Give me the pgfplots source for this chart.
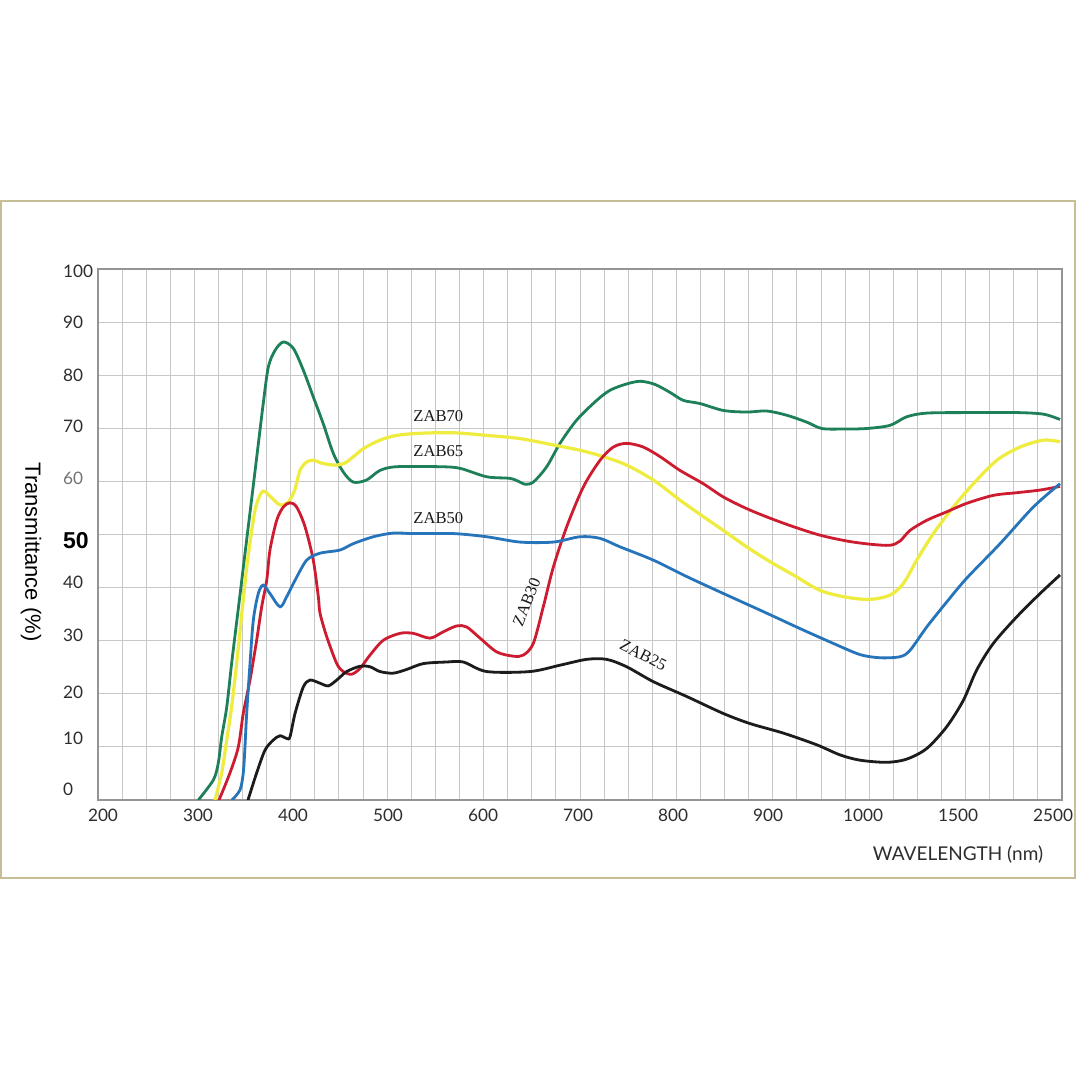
\documentclass[border=0pt]{standalone}
\usepackage{pgfplots}
\pgfplotsset{compat=1.18}
\usepackage{fontspec}
\setmainfont{Liberation Serif}
\newfontfamily\tickfont{Lato}
\newfontfamily\labfont{Liberation Sans}

\definecolor{frameTan}{RGB}{200,190,150}
\definecolor{zGreen}{RGB}{30,128,88}
\definecolor{zYellow}{RGB}{238,236,62}
\definecolor{zRed}{RGB}{205,28,48}
\definecolor{zBlue}{RGB}{38,116,186}
\definecolor{zBlack}{RGB}{28,28,28}
\definecolor{tickGray}{RGB}{45,45,45}

\begin{document}
\begin{tikzpicture}[x=0.5pt,y=0.5pt]
\fill[white] (0,0) rectangle (1080,1080);
\path[use as bounding box] (0,0) rectangle (1080,1080);
\draw[frameTan, line width=0.8pt] (1,202) rectangle (1075,879);

% x axis positions: 0..10 stand for 200,300,...,1000,1500,2500 nm
\begin{axis}[
  at={(49pt,140pt)}, anchor=south west,
  scale only axis, width=482pt, height=265.35pt,
  xmin=-0.021, xmax=10.126, ymin=0, ymax=100,
  axis line style={draw=black!42, line width=1pt},
  xtick={0,...,10},
  xticklabels={200,300,400,500,600,700,800,900,1000,1500,2500},
  minor xtick={-0.0211,0.23258,...,10.14},
  ytick={1.94,11.68,20.3,31.07,40.95,48.96,60.6,70.4,80.0,90.0,99.7},
  yticklabels={0,10,20,30,40,{\labfont\bfseries\fontsize{11.5pt}{12pt}\selectfont\color{black}50},{\color{black!55}60},70,80,90,100},
  minor ytick={0,10,...,100},
  grid=minor,
  minor grid style={black!22, line width=0.5pt},
  major tick length=0pt, minor tick length=0pt,
  tick label style={font=\tickfont\fontsize{8.6pt}{10pt}\selectfont, text=tickGray},
  yticklabel style={anchor=west, xshift=-21pt},
  xticklabel style={xshift=1.5pt, yshift=-1pt},
  clip=true,
]

\addplot[zGreen, line width=1.4pt, smooth] coordinates {
(1.035,0) (1.193,3.77) (1.245,6.97) (1.281,11.86) (1.334,17.5) (1.386,25.8)
(1.439,33.6) (1.474,38.7) (1.526,46.4) (1.597,56.8) (1.666,67.0) (1.719,74.8)
(1.772,81.6) (1.842,84.7) (1.929,86.3) (2.035,85.1) (2.14,81.0) (2.245,75.95)
(2.35,70.9) (2.456,65.3) (2.561,61.8) (2.666,59.9) (2.807,60.3) (2.947,62.1)
(3.123,62.8) (3.579,62.8) (3.789,62.5) (4.071,60.9) (4.316,60.6) (4.421,59.9)
(4.474,59.5) (4.561,59.9) (4.702,62.8) (4.842,67.2) (5.018,71.6) (5.228,75.3)
(5.368,77.2) (5.526,78.3) (5.684,78.9) (5.842,78.3) (6.0,76.8) (6.14,75.3)
(6.316,74.7) (6.561,73.4) (6.807,73.1) (7.018,73.3) (7.228,72.5) (7.439,71.2)
(7.597,70.0) (7.824,69.9) (8.07,70.0) (8.316,70.6) (8.49,72.2) (8.70,72.9)
(9.123,73.0) (9.649,73.0) (9.93,72.7) (10.105,71.7)
};

\addplot[zYellow, line width=1.6pt, smooth] coordinates {
(1.21,0) (1.281,5.1) (1.334,11.3) (1.386,17.6) (1.439,25.8) (1.492,35.0)
(1.526,40.8) (1.561,46.2) (1.632,54.6) (1.695,57.8) (1.737,58.1) (1.81,56.9)
(1.895,55.6) (1.98,56.1) (2.05,58.4) (2.105,62.1) (2.176,63.7) (2.245,64.0)
(2.35,63.4) (2.492,63.1) (2.597,63.7) (2.772,66.2) (2.947,67.8) (3.123,68.7)
(3.368,69.1) (3.719,69.2) (4.071,68.7) (4.421,68.1) (4.772,66.9) (5.053,65.9)
(5.298,64.7) (5.544,63.1) (5.824,60.3) (6.105,56.5) (6.35,53.4) (6.561,50.8)
(6.807,47.7) (7.053,44.9) (7.298,42.4) (7.579,39.5) (7.86,38.2) (8.105,37.8)
(8.316,38.6) (8.456,40.8) (8.597,45.2) (8.772,50.2) (8.982,55.2) (9.193,59.6)
(9.439,64.0) (9.684,66.5) (9.93,67.8) (10.105,67.5)
};

\addplot[zRed, line width=1.4pt, smooth] coordinates {
(1.253,0) (1.368,5.1) (1.456,10.0) (1.508,16.3) (1.579,22.6) (1.649,30.1)
(1.702,36.4) (1.755,41.4) (1.789,47.1) (1.86,52.7) (1.929,55.2) (2.0,56.0)
(2.07,55.2) (2.158,51.5) (2.245,45.2) (2.298,38.3) (2.316,35.2) (2.386,30.8)
(2.492,25.7) (2.561,24.2) (2.649,23.7) (2.737,24.8) (2.842,27.3) (2.982,30.1)
(3.158,31.4) (3.298,31.4) (3.474,30.5) (3.614,31.7) (3.755,32.8) (3.86,32.6)
(4.0,30.5) (4.176,27.9) (4.351,27.1) (4.456,27.3) (4.561,29.5) (4.666,36.4)
(4.772,43.9) (4.913,51.5) (5.088,59.0) (5.263,64.0) (5.403,66.5) (5.544,67.2)
(5.719,66.5) (5.895,64.7) (6.105,62.1) (6.35,59.6) (6.561,57.1) (6.807,54.9)
(7.053,53.1) (7.298,51.5) (7.579,49.9) (7.86,48.8) (8.105,48.2) (8.316,48.0)
(8.421,48.8) (8.526,50.8) (8.702,52.7) (8.912,54.3) (9.123,55.9) (9.403,57.4)
(9.649,57.9) (9.895,58.4) (10.105,59.1)
};

\addplot[zBlue, line width=1.4pt, smooth] coordinates {
(1.389,0) (1.474,1.9) (1.508,5.1) (1.526,10.0) (1.544,16.3) (1.579,25.7)
(1.614,33.9) (1.666,38.9) (1.719,40.5) (1.789,38.9) (1.895,36.4) (1.965,38.3)
(2.053,41.4) (2.176,45.2) (2.316,46.5) (2.526,47.1) (2.666,48.3) (2.877,49.6)
(3.087,50.3) (3.298,50.2) (3.719,50.2) (4.071,49.6) (4.421,48.6) (4.772,48.6)
(5.053,49.6) (5.263,49.3) (5.474,47.7) (5.824,45.2) (6.176,42.1) (6.526,39.2)
(7.018,35.2) (7.368,32.3) (7.719,29.5) (8.0,27.4) (8.211,26.8) (8.421,27.0)
(8.526,28.2) (8.702,32.6) (8.912,37.3) (9.123,41.8) (9.474,48.3) (9.824,55.2)
(10.105,59.6)
};

\addplot[zBlack, line width=1.4pt, smooth] coordinates {
(1.558,0) (1.649,5.1) (1.737,9.4) (1.824,11.3) (1.895,12.1) (1.965,11.6)
(2.0,11.9) (2.053,16.3) (2.14,21.3) (2.211,22.6) (2.316,22.0) (2.403,21.5)
(2.492,22.6) (2.597,24.2) (2.737,25.2) (2.842,25.1) (2.947,24.2) (3.087,23.9)
(3.228,24.6) (3.403,25.7) (3.649,26.0) (3.824,26.0) (4.071,24.2) (4.526,24.2)
(4.842,25.4) (5.123,26.5) (5.333,26.5) (5.544,25.1) (5.824,22.3) (6.176,19.5)
(6.561,16.3) (6.842,14.4) (7.193,12.6) (7.544,10.4) (7.789,8.5) (8.0,7.5)
(8.281,7.1) (8.491,7.7) (8.702,9.7) (8.912,13.8) (9.088,18.8) (9.228,24.5)
(9.403,29.5) (9.649,34.5) (9.895,38.9) (10.105,42.4)
};

\node[font=\fontsize{8.3pt}{9pt}\selectfont, text=black!90] at (axis cs:3.561,72.3) {ZAB70};
\node[font=\fontsize{8.3pt}{9pt}\selectfont, text=black!90] at (axis cs:3.561,65.7) {ZAB65};
\node[font=\fontsize{8.3pt}{9pt}\selectfont, text=black!90] at (axis cs:3.561,53.05) {ZAB50};
\node[font=\fontsize{8.3pt}{9pt}\selectfont, text=black!90, rotate=68] at (axis cs:4.49,37.3) {ZAB30};
\node[font=\fontsize{8.3pt}{9pt}\selectfont, text=black!90, rotate=-27] at (axis cs:5.719,27.3) {ZAB25};
\end{axis}

\node[font=\labfont\fontsize{11pt}{12pt}\selectfont, rotate=-90] at (31,528) {Transmittance (\%)};
\node[font=\tickfont\fontsize{9.5pt}{11pt}\selectfont, text=tickGray] at (958,225) {WAVELENGTH (nm)};
\end{tikzpicture}
\end{document}
